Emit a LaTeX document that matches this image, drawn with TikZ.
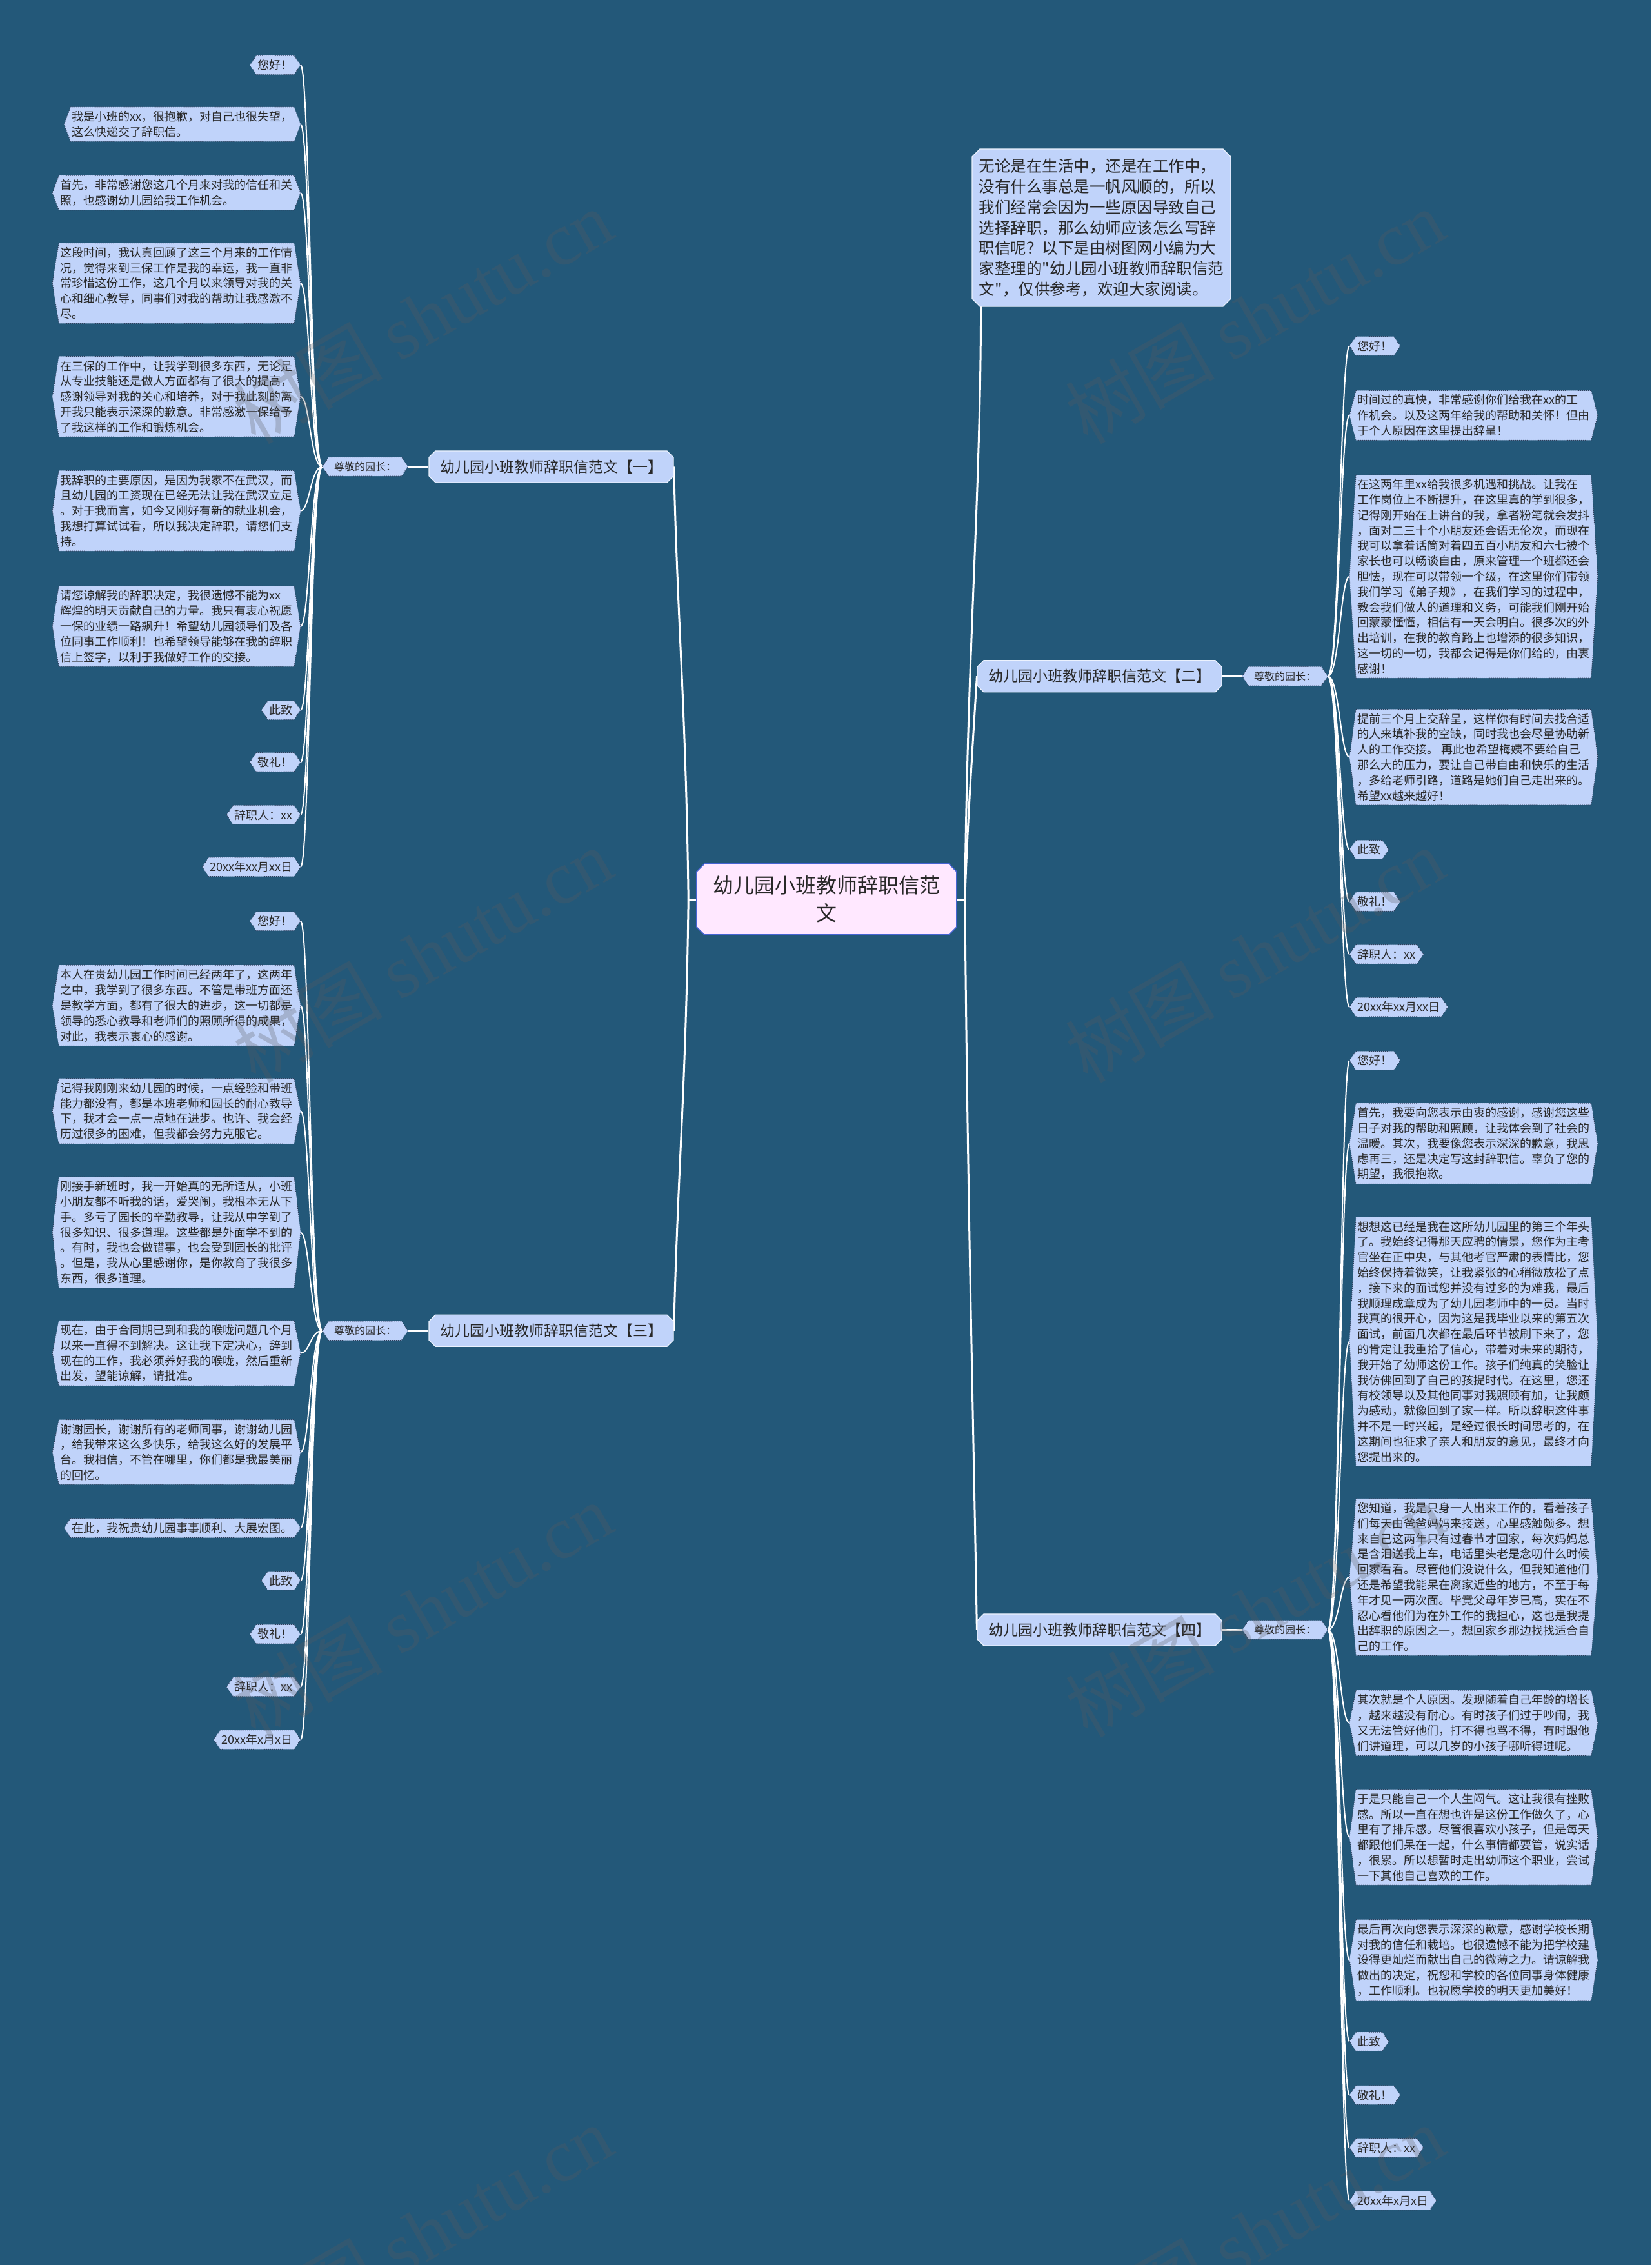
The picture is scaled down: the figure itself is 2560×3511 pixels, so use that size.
\documentclass[tikz,border=0pt]{standalone}
\usepackage{fontspec}
\newfontfamily\cjk{Noto Sans CJK SC}
\newfontfamily\wmserif{Liberation Serif}
\usetikzlibrary{calc,shapes.misc}
\definecolor{bgblue}{RGB}{35,88,121}
\definecolor{leafblue}{RGB}{192,211,250}
\definecolor{leafedge}{RGB}{45,62,92}
\definecolor{txt}{RGB}{40,40,40}
\definecolor{rootpink}{RGB}{255,232,255}
\definecolor{rootedge}{RGB}{70,100,210}
\definecolor{wmgray}{RGB}{90,90,95}
\pgfdeclarelayer{back}
\pgfdeclarelayer{shapes}
\pgfsetlayers{back,shapes,main}
\newcommand\leaffont{\cjk\fontsize{9}{11.9}\selectfont}
\newcommand\hexnode[4]{%
  \node[#1] (#2) at (#3) {#4};
  \coordinate (#2-e) at ($(#2.east)+(5pt,0pt)$);
  \coordinate (#2-w) at ($(#2.west)+(-5pt,0pt)$);
  \begin{pgfonlayer}{shapes}
    \path[hexshape] (#2.north west) -- (#2.north east) -- (#2-e) -- (#2.south east) -- (#2.south west) -- (#2-w) -- cycle;
  \end{pgfonlayer}}
\tikzset{
  hexshape/.style={fill=leafblue, draw=leafedge, densely dotted, line width=0.5pt},
  leaf/.style={font=\leaffont, text=txt, align=left, inner xsep=1pt, inner ysep=3pt},
  dean/.style={font=\cjk\fontsize{8}{10}\selectfont, text=txt, inner xsep=4pt, inner ysep=3.5pt},
  branch/.style={chamfered rectangle, chamfered rectangle sep=2.5pt, draw=white!70!leafblue, line width=0.6pt, fill=leafblue, font=\cjk\fontsize{11.5}{14}\selectfont, text=txt, minimum width=189.5pt, minimum height=24.5pt, inner sep=2pt},
  rootnode/.style={chamfered rectangle, chamfered rectangle sep=3pt, draw=rootedge, line width=0.8pt, fill=rootpink, font=\cjk\fontsize{16}{21.3}\selectfont, text=txt, align=center, minimum width=201.5pt, minimum height=55pt, inner sep=2pt},
  intro/.style={chamfered rectangle, chamfered rectangle sep=3pt, draw=white!70!leafblue, line width=0.6pt, fill=leafblue, font=\cjk\fontsize{12.25}{15.9}\selectfont, text=txt, align=left, minimum width=200.5pt, minimum height=122pt, inner sep=2pt},
  conn/.style={draw=white, line width=1.5pt},
  twig/.style={draw=white, line width=1pt},
  wm/.style={text=wmgray, opacity=0.28, font=\fontsize{58}{58}\selectfont, rotate=30}
}
\begin{document}
\begin{tikzpicture}[x=0.5pt,y=-0.5pt]
\begin{pgfonlayer}{back}
  \fill[bgblue] (0,0) rectangle (2560,3511);
\end{pgfonlayer}
\useasboundingbox (0,0) rectangle (2560,3511);

% root and branches
\node[rootnode] (root) at (1281.5,1394) {幼儿园小班教师辞职信范\\文};
\node[intro] (intro) at (1707.5,353) {无论是在生活中，还是在工作中，\\没有什么事总是一帆风顺的，所以\\我们经常会因为一些原因导致自己\\选择辞职，那么幼师应该怎么写辞\\职信呢？以下是由树图网小编为大\\家整理的"幼儿园小班教师辞职信范\\文"，仅供参考，欢迎大家阅读。};
\node[branch] (b1) at (854.5,723.4) {幼儿园小班教师辞职信范文【一】};
\node[branch] (b3) at (854.5,2062.8) {幼儿园小班教师辞职信范文【三】};
\node[branch] (b2) at (1704.5,1048.2) {幼儿园小班教师辞职信范文【二】};
\node[branch] (b4) at (1704.5,2526.4) {幼儿园小班教师辞职信范文【四】};

\hexnode{dean}{z1}{566,723.4}{尊敬的园长：}
\hexnode{dean}{z3}{566,2062.8}{尊敬的园长：}
\hexnode{dean}{z2}{1992,1048.2}{尊敬的园长：}
\hexnode{dean}{z4}{1992,2526.4}{尊敬的园长：}

% branch 1 leaves
\hexnode{leaf,anchor=east}{a1}{456,100.8}{您好！}
\hexnode{leaf,anchor=east}{a2}{456,192.6}{我是小班的xx，很抱歉，对自己也很失望，\\这么快递交了辞职信。}
\hexnode{leaf,anchor=east}{a3}{456,299}{首先，非常感谢您这几个月来对我的信任和关\\照，也感谢幼儿园给我工作机会。}
\hexnode{leaf,anchor=east}{a4}{456,439}{这段时间，我认真回顾了这三个月来的工作情\\况，觉得来到三保工作是我的幸运，我一直非\\常珍惜这份工作，这几个月以来领导对我的关\\心和细心教导，同事们对我的帮助让我感激不\\尽。}
\hexnode{leaf,anchor=east}{a5}{456,614.8}{在三保的工作中，让我学到很多东西，无论是\\从专业技能还是做人方面都有了很大的提高，\\感谢领导对我的关心和培养，对于我此刻的离\\开我只能表示深深的歉意。非常感激一保给予\\了我这样的工作和锻炼机会。}
\hexnode{leaf,anchor=east}{a6}{456,791.7}{我辞职的主要原因，是因为我家不在武汉，而\\且幼儿园的工资现在已经无法让我在武汉立足\\。对于我而言，如今又刚好有新的就业机会，\\我想打算试试看，所以我决定辞职，请您们支\\持。}
\hexnode{leaf,anchor=east}{a7}{456,970.9}{请您谅解我的辞职决定，我很遗憾不能为xx\\辉煌的明天贡献自己的力量。我只有衷心祝愿\\一保的业绩一路飙升！希望幼儿园领导们及各\\位同事工作顺利！也希望领导能够在我的辞职\\信上签字，以利于我做好工作的交接。}
\hexnode{leaf,anchor=east}{a8}{456,1100.8}{此致}
\hexnode{leaf,anchor=east}{a9}{456,1181.4}{敬礼！}
\hexnode{leaf,anchor=east}{a10}{456,1263.2}{辞职人：xx}
\hexnode{leaf,anchor=east}{a11}{456,1343.8}{20xx年xx月xx日}

% branch 3 leaves
\hexnode{leaf,anchor=east}{c1}{456,1427.8}{您好！}
\hexnode{leaf,anchor=east}{c2}{456,1558.8}{本人在贵幼儿园工作时间已经两年了，这两年\\之中，我学到了很多东西。不管是带班方面还\\是教学方面，都有了很大的进步，这一切都是\\领导的悉心教导和老师们的照顾所得的成果，\\对此，我表示衷心的感谢。}
\hexnode{leaf,anchor=east}{c3}{456,1722.3}{记得我刚刚来幼儿园的时候，一点经验和带班\\能力都没有，都是本班老师和园长的耐心教导\\下，我才会一点一点地在进步。也许、我会经\\历过很多的困难，但我都会努力克服它。}
\hexnode{leaf,anchor=east}{c4}{456,1910.5}{刚接手新班时，我一开始真的无所适从，小班\\小朋友都不听我的话，爱哭闹，我根本无从下\\手。多亏了园长的辛勤教导，让我从中学到了\\很多知识、很多道理。这些都是外面学不到的\\。有时，我也会做错事，也会受到园长的批评\\。但是，我从心里感谢你，是你教育了我很多\\东西，很多道理。}
\hexnode{leaf,anchor=east}{c5}{456,2097.5}{现在，由于合同期已到和我的喉咙问题几个月\\以来一直得不到解决。这让我下定决心，辞到\\现在的工作，我必须养好我的喉咙，然后重新\\出发，望能谅解，请批准。}
\hexnode{leaf,anchor=east}{c6}{456,2250.9}{谢谢园长，谢谢所有的老师同事，谢谢幼儿园\\，给我带来这么多快乐，给我这么好的发展平\\台。我相信，不管在哪里，你们都是我最美丽\\的回忆。}
\hexnode{leaf,anchor=east}{c7}{456,2368.5}{在此，我祝贵幼儿园事事顺利、大展宏图。}
\hexnode{leaf,anchor=east}{c8}{456,2450.2}{此致}
\hexnode{leaf,anchor=east}{c9}{456,2533.1}{敬礼！}
\hexnode{leaf,anchor=east}{c10}{456,2614.8}{辞职人：xx}
\hexnode{leaf,anchor=east}{c11}{456,2696.6}{20xx年x月x日}

% branch 2 leaves
\hexnode{leaf,anchor=west}{d1}{2102,536.4}{您好！}
\hexnode{leaf,anchor=west}{d2}{2102,643.9}{时间过的真快，非常感谢你们给我在xx的工\\作机会。以及这两年给我的帮助和关怀！但由\\于个人原因在这里提出辞呈！}
\hexnode{leaf,anchor=west}{d3}{2102,893.6}{在这两年里xx给我很多机遇和挑战。让我在\\工作岗位上不断提升，在这里真的学到很多，\\记得刚开始在上讲台的我，拿者粉笔就会发抖\\，面对二三十个小朋友还会语无伦次，而现在\\我可以拿着话筒对着四五百小朋友和六七被个\\家长也可以畅谈自由，原来管理一个班都还会\\胆怯，现在可以带领一个级，在这里你们带领\\我们学习《弟子规》，在我们学习的过程中，\\教会我们做人的道理和义务，可能我们刚开始\\回蒙蒙懂懂，相信有一天会明白。很多次的外\\出培训，在我的教育路上也增添的很多知识，\\这一切的一切，我都会记得是你们给的，由衷\\感谢！}
\hexnode{leaf,anchor=west}{d4}{2102,1173.6}{提前三个月上交辞呈，这样你有时间去找合适\\的人来填补我的空缺，同时我也会尽量协助新\\人的工作交接。 再此也希望梅姨不要给自己\\那么大的压力，要让自己带自由和快乐的生活\\，多给老师引路，道路是她们自己走出来的。\\希望xx越来越好！}
\hexnode{leaf,anchor=west}{d5}{2102,1317}{此致}
\hexnode{leaf,anchor=west}{d6}{2102,1397.6}{敬礼！}
\hexnode{leaf,anchor=west}{d7}{2102,1479.3}{辞职人：xx}
\hexnode{leaf,anchor=west}{d8}{2102,1561.1}{20xx年xx月xx日}

% branch 4 leaves
\hexnode{leaf,anchor=west}{e1}{2102,1644}{您好！}
\hexnode{leaf,anchor=west}{e2}{2102,1772.7}{首先，我要向您表示由衷的感谢，感谢您这些\\日子对我的帮助和照顾，让我体会到了社会的\\温暖。其次，我要像您表示深深的歉意，我思\\虑再三，还是决定写这封辞职信。辜负了您的\\期望，我很抱歉。}
\hexnode{leaf,anchor=west}{e3}{2102,2079.6}{想想这已经是我在这所幼儿园里的第三个年头\\了。我始终记得那天应聘的情景，您作为主考\\官坐在正中央，与其他考官严肃的表情比，您\\始终保持着微笑，让我紧张的心稍微放松了点\\，接下来的面试您并没有过多的为难我，最后\\我顺理成章成为了幼儿园老师中的一员。当时\\我真的很开心，因为这是我毕业以来的第五次\\面试，前面几次都在最后环节被刷下来了，您\\的肯定让我重拾了信心，带着对未来的期待，\\我开始了幼师这份工作。孩子们纯真的笑脸让\\我仿佛回到了自己的孩提时代。在这里，您还\\有校领导以及其他同事对我照顾有加，让我颇\\为感动，就像回到了家一样。所以辞职这件事\\并不是一时兴起，是经过很长时间思考的，在\\这期间也征求了亲人和朋友的意见，最终才向\\您提出来的。}
\hexnode{leaf,anchor=west}{e4}{2102,2444.6}{您知道，我是只身一人出来工作的，看着孩子\\们每天由爸爸妈妈来接送，心里感触颇多。想\\来自己这两年只有过春节才回家，每次妈妈总\\是含泪送我上车，电话里头老是念叨什么时候\\回家看看。尽管他们没说什么，但我知道他们\\还是希望我能呆在离家近些的地方，不至于每\\年才见一两次面。毕竟父母年岁已高，实在不\\忍心看他们为在外工作的我担心，这也是我提\\出辞职的原因之一，想回家乡那边找找适合自\\己的工作。}
\hexnode{leaf,anchor=west}{e5}{2102,2670.8}{其次就是个人原因。发现随着自己年龄的增长\\，越来越没有耐心。有时孩子们过于吵闹，我\\又无法管好他们，打不得也骂不得，有时跟他\\们讲道理，可以几岁的小孩子哪听得进呢。}
\hexnode{leaf,anchor=west}{e6}{2102,2847.8}{于是只能自己一个人生闷气。这让我很有挫败\\感。所以一直在想也许是这份工作做久了，心\\里有了排斥感。尽管很喜欢小孩子，但是每天\\都跟他们呆在一起，什么事情都要管，说实话\\，很累。所以想暂时走出幼师这个职业，尝试\\一下其他自己喜欢的工作。}
\hexnode{leaf,anchor=west}{e7}{2102,3038.2}{最后再次向您表示深深的歉意，感谢学校长期\\对我的信任和栽培。也很遗憾不能为把学校建\\设得更灿烂而献出自己的微薄之力。请谅解我\\做出的决定，祝您和学校的各位同事身体健康\\，工作顺利。也祝愿学校的明天更加美好！}
\hexnode{leaf,anchor=west}{e8}{2102,3164.7}{此致}
\hexnode{leaf,anchor=west}{e9}{2102,3247.6}{敬礼！}
\hexnode{leaf,anchor=west}{e10}{2102,3329.3}{辞职人：xx}
\hexnode{leaf,anchor=west}{e11}{2102,3411.1}{20xx年x月x日}

% connectors
\begin{pgfonlayer}{back}
  \coordinate (cL) at ($(root.west)+(-6pt,0pt)$);
  \coordinate (cR) at ($(root.east)+(6pt,0pt)$);
  \coordinate (iF) at ($(intro.south west)+(4pt,0pt)$);
  \draw[conn] (root.west) -- (cL);
  \draw[conn] (root.east) -- (cR);
  \draw[conn] (cL) .. controls +(-4,-300) and +(6,250) .. (b1.east);
  \draw[conn] (cL) .. controls +(-4,300) and +(6,-250) .. (b3.east);
  \draw[conn] (cR) .. controls +(4,-120) and +(-6,100) .. (b2.west);
  \draw[conn] (cR) .. controls +(4,450) and +(-6,-350) .. (b4.west);
  \draw[conn] (cR) .. controls +(4,-400) and +(0,300) .. (iF);
  \draw[conn] (b1.west) -- (z1-e);
  \draw[conn] (b3.west) -- (z3-e);
  \draw[conn] (b2.east) -- (z2-w);
  \draw[conn] (b4.east) -- (z4-w);
  \foreach \n in {a1,a2,a3,a4,a5,a6,a7,a8,a9,a10,a11}
    \draw[twig] (z1-w) .. controls +(-18,0) and +(14,0) .. (\n-e);
  \foreach \n in {c1,c2,c3,c4,c5,c6,c7,c8,c9,c10,c11}
    \draw[twig] (z3-w) .. controls +(-18,0) and +(14,0) .. (\n-e);
  \foreach \n in {d1,d2,d3,d4,d5,d6,d7,d8}
    \draw[twig] (z2-e) .. controls +(18,0) and +(-14,0) .. (\n-w);
  \foreach \n in {e1,e2,e3,e4,e5,e6,e7,e8,e9,e10,e11}
    \draw[twig] (z4-e) .. controls +(18,0) and +(-14,0) .. (\n-w);
\end{pgfonlayer}

% watermarks
\foreach \wx in {655,1945}
  \foreach \wy in {490,1480,2495,3460}
    \node[wm] (wm\wx-\wy) at (\wx,\wy) {\cjk 树图\ \wmserif shutu.cn};
\end{tikzpicture}
\end{document}
